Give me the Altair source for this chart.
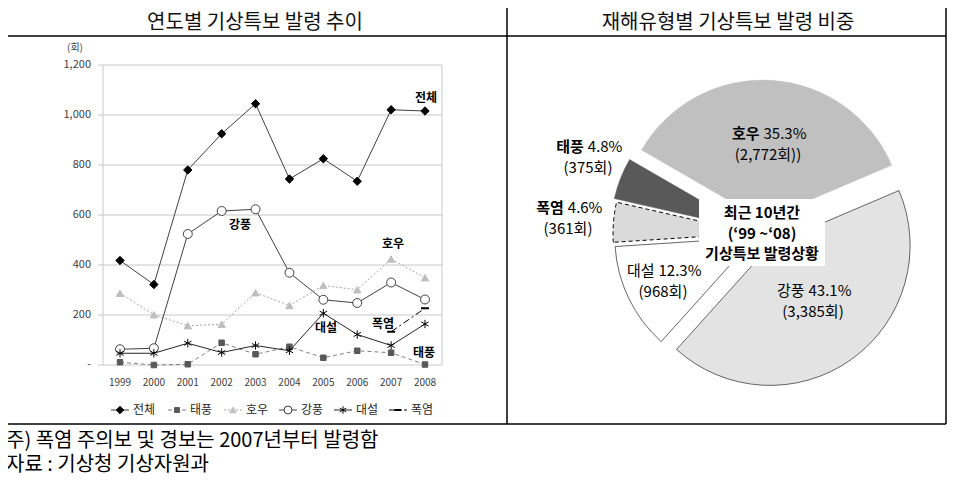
import math
import altair as alt
import pandas as pd

# ---------------- data ----------------
years = ["1999", "2000", "2001", "2002", "2003", "2004", "2005", "2006", "2007", "2008"]
total = [418, 322, 780, 925, 1045, 744, 825, 735, 1021, 1016]
typhoon = [11, 0, 3, 89, 43, 73, 29, 57, 49, 2]
heavy_rain = [287, 201, 157, 163, 289, 238, 318, 301, 424, 349]
strong_wind = [63, 67, 524, 616, 623, 369, 261, 248, 330, 262]
heavy_snow = [47, 47, 87, 50, 78, 57, 207, 122, 78, 164]
heat_years = ["2007", "2008"]
heat_wave = [133, 227]

y_ticks = [0, 200, 400, 600, 800, 1000, 1200]
y_tick_labels = ["-", "200", "400", "600", "800", "1,000", "1,200"]

pie_names = ["호우", "강풍", "대설", "폭염", "태풍"]
pie_counts = [2772, 3385, 968, 361, 375]
pie_pcts = ["35.3%", "43.1%", "12.3%", "4.6%", "4.8%"]
pie_count_labels = ["(2,772회))", "(3,385회)", "(968회)", "(361회)", "(375회)"]

FONT = "Noto Sans CJK KR"
W, H = 939, 469


def V(p):
    """page pixel -> view pixel (8px page margin)"""
    return p - 8


one = pd.DataFrame({"k": [0]})

XS = alt.Scale(type="point", domain=years, range=[V(120), V(425)], padding=0)
YS = alt.Scale(domain=[0, 1200], range=[V(365), V(65)])

layers = []

# ---------------- helpers ----------------
frame_col = "#000000"
def hline(y, x1, x2, color=frame_col, sw=1.5, dash=None):
    kw = dict(color=color, strokeWidth=sw)
    if dash:
        kw["strokeDash"] = dash
    return alt.Chart(one).mark_rule(**kw).encode(
        x=alt.value(V(x1)), x2=alt.value(V(x2)), y=alt.value(V(y)))

def vline(x, y1, y2, color=frame_col, sw=1.5):
    return alt.Chart(one).mark_rule(color=color, strokeWidth=sw).encode(
        x=alt.value(V(x)), y=alt.value(V(y1)), y2=alt.value(V(y2)))

def txt(s, x, y, size=13, weight="normal", align="center", color="#000000", font=FONT):
    return alt.Chart(one).mark_text(
        text=s, fontSize=size, fontWeight=weight, align=align, baseline="middle",
        color=color, font=font).encode(x=alt.value(V(x)), y=alt.value(V(y)))

# ---------------- left chart: grid ----------------
tick_df = pd.DataFrame({"v": y_ticks, "lab": y_tick_labels})
layers.append(
    alt.Chart(tick_df).mark_rule(color="#c8c8c8", strokeWidth=1).encode(
        y=alt.Y("v:Q", scale=YS, axis=None), x=alt.value(V(98)), x2=alt.value(V(442)))
)
layers.append(vline(103, 65, 365, color="#c8c8c8", sw=1))
layers.append(vline(442, 65, 365, color="#c8c8c8", sw=1))
layers.append(
    alt.Chart(tick_df).mark_text(align="right", baseline="middle", fontSize=11,
                                 color="#404040", font=FONT).encode(
        y=alt.Y("v:Q", scale=YS, axis=None), x=alt.value(V(91)), text="lab:N")
)
layers.append(txt("(회)", 75, 48, size=10, color="#404040"))
year_df = pd.DataFrame({"year": years})
layers.append(
    alt.Chart(year_df).mark_text(baseline="middle", fontSize=10, color="#404040", font=FONT).encode(
        x=alt.X("year:O", scale=XS, axis=None), y=alt.value(V(383)), text="year:N")
)

# ---------------- left chart: series ----------------
ASTER = "M0,-1L0,1M-0.87,-0.5L0.87,0.5M-0.87,0.5L0.87,-0.5"
DASHM = "M-1,0L1,0"
series = [
    # name, values, years, line color, dash, shape, fill, stroke, size, point stroke width
    ("호우", heavy_rain, years, "#a6a6a6", [2, 2], "triangle-up", "#bfbfbf", "#bfbfbf", 55, 1),
    ("태풍", typhoon, years, "#7f7f7f", [4, 3], "square", "#595959", "#595959", 30, 1),
    ("전체", total, years, "#404040", None, "diamond", "#000000", "#000000", 70, 1),
    ("강풍", strong_wind, years, "#404040", None, "circle", "#ffffff", "#404040", 80, 1),
    ("대설", heavy_snow, years, "#262626", None, ASTER, "transparent", "#000000", 70, 1),
    ("폭염", heat_wave, heat_years, "#000000", [7, 3, 2, 3], DASHM, "transparent", "#000000", 64, 2),
]
for name, vals, yrs, lc, dash, shape, fill, stroke, size, psw in series:
    df = pd.DataFrame({"year": yrs, "v": vals})
    base = alt.Chart(df).encode(
        x=alt.X("year:O", scale=XS, axis=None), y=alt.Y("v:Q", scale=YS, axis=None))
    lkw = dict(color=lc, strokeWidth=1)
    if dash:
        lkw["strokeDash"] = dash
    layers.append(base.mark_line(**lkw))
    layers.append(base.mark_point(shape=shape, fill=fill, stroke=stroke, size=size,
                                  strokeWidth=psw, opacity=1, fillOpacity=1))

# series labels in plot
for s, x, y in [("전체", 426, 98), ("강풍", 240, 225), ("호우", 393, 244),
                ("대설", 326, 328), ("폭염", 383, 324), ("태풍", 424, 353)]:
    layers.append(txt(s, x, y, size=12, weight="bold"))

# legend
order = ["전체", "태풍", "호우", "강풍", "대설", "폭염"]
leg_x = [120, 177, 233, 288, 343, 398]
sty = {s[0]: s for s in series}
for name, lx in zip(order, leg_x):
    _, _, _, lc, dash, shape, fill, stroke, size, psw = sty[name]
    ly = 410
    layers.append(hline(ly, lx - 9, lx + 9, color=lc, sw=1, dash=dash))
    layers.append(alt.Chart(one).mark_point(shape=shape, fill=fill, stroke=stroke, size=size * 0.8,
                                            strokeWidth=psw, opacity=1, fillOpacity=1).encode(
        x=alt.value(V(lx)), y=alt.value(V(ly))))
    layers.append(txt(name, lx + 13, ly, size=12, align="left", color="#262626"))

# ---------------- right chart: pie ----------------
CX, CY, R = 762, 234, 140
START = -math.radians(60)
pie_df = pd.DataFrame({"name": pie_names, "n": pie_counts, "idx": list(range(len(pie_names)))})
pie_base = (
    alt.Chart(pie_df)
    .transform_window(cum="sum(n)", sort=[alt.SortField("idx")], frame=[None, 0])
    .transform_joinaggregate(tot="sum(n)")
    .transform_calculate(t1=f"{START} + 2*PI*datum.cum/datum.tot",
                         t0=f"{START} + 2*PI*(datum.cum - datum.n)/datum.tot")
    .transform_calculate(mid="(datum.t0 + datum.t1)/2")
)
pie_style = {
    "호우": dict(fill="#c0c0c0", stroke="#c0c0c0", sw=0.5, dash=None, ex=14),
    "강풍": dict(fill="#e3e3e3", stroke="#404040", sw=0.8, dash=None, ex=14),
    "대설": dict(fill="#ffffff", stroke="#404040", sw=0.8, dash=None, ex=8),
    "폭염": dict(fill="#dadada", stroke="#000000", sw=1, dash=[4, 3], ex=9),
    "태풍": dict(fill="#595959", stroke="#595959", sw=0.5, dash=None, ex=12),
}
for name in pie_names:
    st = pie_style[name]
    akw = dict(outerRadius=R, fill=st["fill"], stroke=st["stroke"], strokeWidth=st["sw"])
    if st["dash"]:
        akw["strokeDash"] = st["dash"]
    layers.append(
        pie_base.transform_filter(alt.datum.name == name)
        .transform_calculate(cx=f"{V(CX)} + {st['ex']}*sin(datum.mid)",
                             cy=f"{V(CY)} - {st['ex']}*cos(datum.mid)")
        .mark_arc(**akw)
        .encode(theta=alt.Theta("t0:Q", scale=None), theta2=alt.Theta2("t1:Q"),
                x=alt.X("cx:Q", scale=None, axis=None), y=alt.Y("cy:Q", scale=None, axis=None))
    )

# center box
layers.append(alt.Chart(one).mark_rect(fill="#ffffff").encode(
    x=alt.value(V(699)), x2=alt.value(V(825)), y=alt.value(V(199)), y2=alt.value(V(266))))
for s, y in [("최근 10년간", 213), ("(‘99 ~‘08)", 234), ("기상특보 발령상황", 254)]:
    layers.append(txt(s, 762, y, size=15, weight="bold"))

# pie labels: name (bold or normal) + percentage, then count line
pie_lab_pos = {"호우": (768, 134, "bold"), "강풍": (813, 291, "normal"), "대설": (663, 271, "normal"),
               "폭염": (568, 208, "bold"), "태풍": (588, 147, "bold")}
for name, pct, cl in zip(pie_names, pie_pcts, pie_count_labels):
    cx, cy, wt = pie_lab_pos[name]
    name_w = 2 * 15
    pct_w = len(pct) * 8.6
    tot_w = name_w + 4 + pct_w
    split = cx - tot_w / 2 + name_w
    layers.append(txt(name, split, cy, size=15, weight=wt, align="right"))
    layers.append(txt(pct, split + 4, cy, size=15, align="left"))
    layers.append(txt(cl, cx, cy + 21, size=15))

# ---------------- titles, frame, notes ----------------
layers.append(txt("연도별 기상특보 발령 추이", 255, 22.5, size=20, color="#111111"))
layers.append(txt("재해유형별 기상특보 발령 비중", 728, 22.5, size=20, color="#111111"))

layers.append(hline(4, 3, 946))
layers.append(hline(36, 3, 946))
layers.append(hline(424, 3, 946))
layers.append(vline(3, 4, 424))
layers.append(vline(946, 4, 424))
layers.append(vline(507, 4, 424))

layers.append(txt("주) 폭염 주의보 및 경보는 2007년부터 발령함", 6, 441, size=20, align="left"))
layers.append(txt("자료 : 기상청 기상자원과", 6, 465, size=20, align="left"))

chart = (
    alt.layer(*layers)
    .resolve_scale(x="independent", y="independent")
    .properties(width=W, height=H, padding=0, autosize=alt.AutoSizeParams(type="none"))
    .configure_view(stroke=None)
)
chart.save("out.html", embed_options={"renderer": "svg", "actions": False})
